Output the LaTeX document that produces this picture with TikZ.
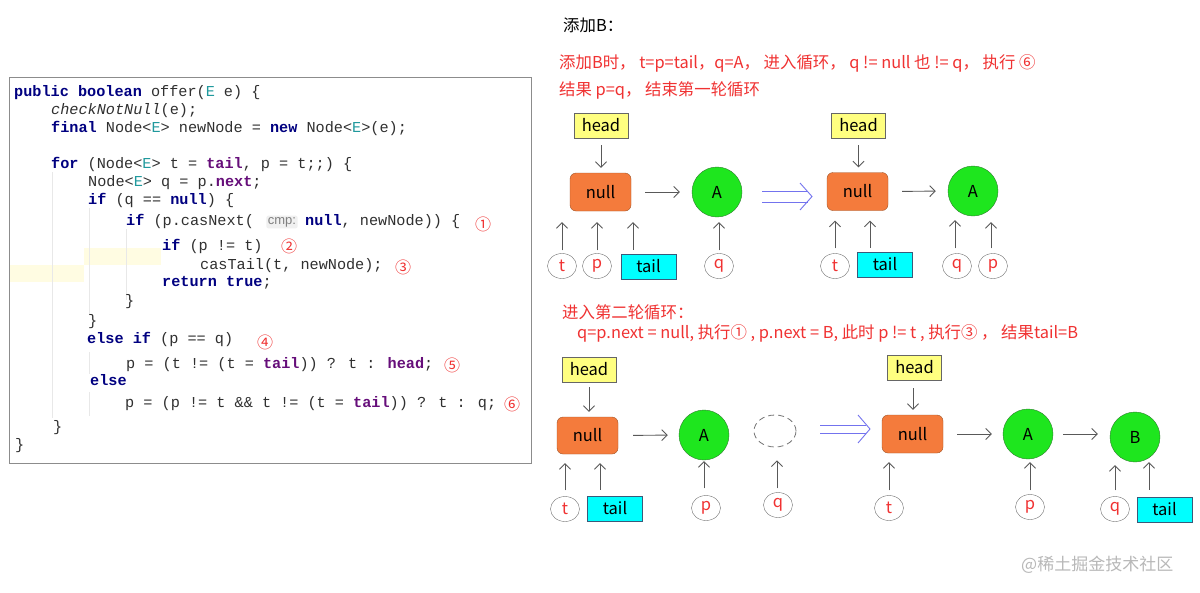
\documentclass[tikz,border=0pt]{standalone}
\usepackage{fontspec}
\setmainfont{Liberation Sans}
\newfontfamily\codefont{Liberation Mono}
\newfontfamily\cjk{Noto Sans CJK SC}
\usetikzlibrary{arrows.meta,shapes.geometric}
\definecolor{kwc}{HTML}{000080}
\definecolor{fdc}{HTML}{660E7A}
\definecolor{tpc}{HTML}{20999D}
\definecolor{codec}{HTML}{303030}
\definecolor{redc}{HTML}{F03232}
\definecolor{hyellow}{HTML}{FFFF80}
\definecolor{nullfill}{HTML}{F47B3C}
\definecolor{nullborder}{HTML}{A0562A}
\definecolor{gfill}{HTML}{1EE61E}
\definecolor{gborder}{HTML}{2E7D2E}
\definecolor{tailfill}{HTML}{00FFFF}
\definecolor{tailborder}{HTML}{3A5A7A}
\definecolor{dblc}{HTML}{7373EE}
\definecolor{guide}{HTML}{E8E8E8}
\definecolor{hl}{HTML}{FFFCE2}
\newcommand\kw[1]{\textcolor{kwc}{\bfseries #1}}
\newcommand\fd[1]{\textcolor{fdc}{\bfseries #1}}
\newcommand\tp{\textcolor{tpc}{E}}
\newcommand\lab{\cjk\fontsize{16.5}{19}\selectfont}
\tikzset{
  codeline/.style={anchor=west,inner sep=0pt,text height=11pt,text depth=3.5pt,text=codec,font=\codefont\fontsize{15.2}{18}\selectfont},
  cnum/.style={inner sep=0pt,text=redc,font=\cjk\fontsize{16}{18}\selectfont},
  headbox/.style={draw=gray!80!black,fill=hyellow,minimum width=54pt,minimum height=25pt,inner sep=0pt,font=\lab},
  nullbox/.style={draw=nullborder,fill=nullfill,rounded corners=6pt,minimum width=61pt,minimum height=38pt,inner sep=0pt,font=\lab},
  gcirc/.style={circle,draw=gborder,fill=gfill,minimum size=50pt,inner sep=0pt,font=\lab},
  tailbox/.style={draw=tailborder,fill=tailfill,minimum width=55pt,minimum height=25pt,inner sep=0pt,font=\lab},
  varell/.style={ellipse,draw=gray!90!black,fill=white,minimum width=29pt,minimum height=25pt,inner sep=0pt,text=redc,font=\lab},
  ptr/.style={draw=black!65,line width=0.9pt,-{Straight Barb[length=5.5pt,width=11pt]}},
  dbl/.style={draw=dblc,line width=0.9pt},
  rtext/.style={anchor=west,inner sep=0pt,text=redc,font=\cjk\fontsize{16.4}{19}\selectfont},
}
\begin{document}
\begin{tikzpicture}[x=1pt,y=-1pt]
\useasboundingbox[fill=white] (0,0) rectangle (1200,592);

% ---------- code panel ----------
\fill[hl] (84,248) rectangle (161,265);
\fill[hl] (10,265) rectangle (84,282);
\draw[guide,line width=0.8pt] (52,172) -- (52,418);
\draw[guide,line width=0.8pt] (89,208) -- (89,314);
\draw[guide,line width=0.8pt] (89,352) -- (89,374);
\draw[guide,line width=0.8pt] (89,392) -- (89,416);
\draw[guide,line width=0.8pt] (126,229) -- (126,300);
\node[draw=black!45,line width=1.4pt,minimum width=522pt,minimum height=386pt,anchor=north west,inner sep=0pt] (codebox) at (9,77) {};

\node[codeline] (c1) at (14,93) {\kw{public boolean} offer(\tp{} e) \{};
\node[codeline] (c2) at (51,111) {\textit{checkNotNull}(e);};
\node[codeline] (c3) at (51,129) {\kw{final} Node<\tp> newNode = \kw{new} Node<\tp>(e);};
\node[codeline] (c4) at (51,165) {\kw{for} (Node<\tp> t = \fd{tail}, p = t;;) \{};
\node[codeline] (c5) at (88,183) {Node<\tp> q = p.\fd{next};};
\node[codeline] (c6) at (88,201) {\kw{if} (q == \kw{null}) \{};
\node[codeline] (c7) at (126,222) {\kw{if} (p.casNext(};
\node[inner sep=1.5pt,fill=black!6,rounded corners=2pt,text=black!50,font=\fontsize{13}{15}\selectfont] (hint) at (282,222) {cmp:};
\node[codeline] (c7b) at (305,222) {\kw{null}, newNode)) \{};
\node[codeline] (c8) at (162,247) {\kw{if} (p != t)};
\node[codeline] (c9) at (200,266) {casTail(t, newNode);};
\node[codeline] (c10) at (162,283) {\kw{return true};};
\node[codeline] (c11) at (125,302) {\}};
\node[codeline] (c12) at (88,322) {\}};
\node[codeline] (c13) at (87,340) {\kw{else if} (p == q)};
\node[codeline] (c14) at (126,365) {p = (t != (t = \fd{tail})) ? t : \fd{head};};
\node[codeline] (c15) at (90,382) {\kw{else}};
\node[codeline] (c16) at (125,404) {p = (p != t \&\& t != (t = \fd{tail})) ? t : q;};
\node[codeline] (c17) at (53,428) {\}};
\node[codeline] (c18) at (15,446) {\}};

\node[cnum] (n1) at (483,224) {①};
\node[cnum] (n2) at (289,246) {②};
\node[cnum] (n3) at (403,267) {③};
\node[cnum] (n4) at (265,342) {④};
\node[cnum] (n5) at (452,365) {⑤};
\node[cnum] (n6) at (512,404) {⑥};

% ---------- texts ----------
\node[anchor=west,inner sep=0pt,font=\cjk\fontsize{16.4}{19}\selectfont] (ttl) at (563,25) {添加B：};
\node[rtext] (r1) at (559,63) {添加B时， t=p=tail，q=A， 进入循环， q != null 也 != q， 执行 ⑥};
\node[rtext] (r2) at (559,90) {结果 p=q， 结束第一轮循环};
\node[rtext] (r3) at (562,312) {进入第二轮循环：};
\node[rtext] (r4) at (577,333) {q=p.next = null,  执行① , p.next = B, 此时 p != t , 执行③ ， 结果tail=B};

% ---------- diagram 1 ----------
\node[headbox] (head1) at (601,125.5) {head};
\node[nullbox] (null1) at (600.5,192) {null};
\node[gcirc] (A1) at (717,192) {A};
\node[varell] (t1) at (562,266) {t};
\node[varell] (p1) at (597,266) {p};
\node[tailbox] (tail1) at (648.5,266.5) {tail};
\node[varell] (q1) at (719,266) {q};
\coordinate (tl1) at ([xshift=-15.5pt]tail1.north);
\draw[ptr,shorten <=7pt,shorten >=5pt] (head1.south) -- (head1.south |- null1.north);
\draw[ptr,shorten <=14pt,shorten >=12pt] (null1.east) -- (A1.west);
\draw[ptr,shorten <=3pt,shorten >=11pt] (t1.north) -- (t1.north |- null1.south);
\draw[ptr,shorten <=3pt,shorten >=11pt] (p1.north) -- (p1.north |- null1.south);
\draw[ptr,shorten <=4pt,shorten >=11pt] (tl1) -- (tl1 |- null1.south);
\draw[ptr,shorten <=3pt,shorten >=5pt] (q1.north) -- (q1.north |- A1.south);

% double arrow 1
\draw[dbl] (762,191) -- (808,191);
\draw[dbl] (762,202) -- (808,202);
\draw[dbl] (800,183) -- (812,196.5) -- (800,210);

% ---------- diagram 2 ----------
\node[headbox] (head2) at (858.5,125.5) {head};
\node[nullbox] (null2) at (857.5,191.5) {null};
\node[gcirc] (A2) at (973,191) {A};
\node[varell] (t2) at (835,266) {t};
\node[tailbox] (tail2) at (885,264.5) {tail};
\node[varell] (q2) at (957,266) {q};
\node[varell] (p2) at (993,266) {p};
\coordinate (tl2) at ([xshift=-15pt]tail2.north);
\draw[ptr,shorten <=7pt,shorten >=5pt] (head2.south) -- (head2.south |- null2.north);
\draw[ptr,shorten <=14pt,shorten >=12pt] (null2.east) -- (A2.west);
\draw[ptr,shorten <=5pt,shorten >=10pt] (t2.north) -- (t2.north |- null2.south);
\draw[ptr,shorten <=4pt,shorten >=10pt] (tl2) -- (tl2 |- null2.south);
\draw[ptr,shorten <=5pt,shorten >=4pt] ([xshift=-2pt]q2.north) -- ([xshift=-2pt]q2.north |- A2.south);
\draw[ptr,shorten <=5pt,shorten >=6pt] ([xshift=-2pt]p2.north) -- ([xshift=-2pt]p2.north |- A2.south);

% ---------- diagram 3 ----------
\node[headbox] (head3) at (589,369.5) {head};
\node[nullbox,minimum height=37pt] (null3) at (587.5,435.5) {null};
\node[gcirc] (A3) at (704,435) {A};
\node[ellipse,draw=black!55,dashed,dash pattern=on 6pt off 4pt,line width=0.8pt,minimum width=42pt,minimum height=32pt,inner sep=0pt] (D3) at (775,431) {};
\node[varell] (t3) at (565,509) {t};
\node[tailbox] (tail3) at (615,508.5) {tail};
\node[varell] (p3) at (706,508) {p};
\node[varell] (q3) at (778,505) {q};
\coordinate (tl3) at ([xshift=-15pt]tail3.north);
\draw[ptr,shorten <=5pt,shorten >=5pt] (head3.south) -- (head3.south |- null3.north);
\draw[ptr,shorten <=15pt,shorten >=11pt] (null3.east) -- (A3.west);
\draw[ptr,shorten <=6pt,shorten >=9pt] (t3.north) -- (t3.north |- null3.south);
\draw[ptr,shorten <=6pt,shorten >=9pt] (tl3) -- (tl3 |- null3.south);
\draw[ptr,shorten <=7pt,shorten >=1pt] ([xshift=-2pt]p3.north) -- ([xshift=-2pt]p3.north |- A3.south);
\draw[ptr,shorten <=4pt,shorten >=13pt] ([xshift=-1pt]q3.north) -- ([xshift=-1pt]q3.north |- D3.south);

% double arrow 2
\draw[dbl] (820,425) -- (866,425);
\draw[dbl] (820,433) -- (866,433);
\draw[dbl] (858,415) -- (870,429) -- (858,443);

% ---------- diagram 4 ----------
\node[headbox] (head4) at (914.5,367.5) {head};
\node[nullbox] (null4) at (912.5,434) {null};
\node[gcirc] (A4) at (1028,434) {A};
\node[gcirc] (B4) at (1135,437) {B};
\node[varell] (t4) at (889,508) {t};
\node[varell] (p4) at (1030,507) {p};
\node[varell] (q4) at (1115,509) {q};
\node[tailbox] (tail4) at (1164.5,509.5) {tail};
\coordinate (tl4) at ([xshift=-15.5pt]tail4.north);
\draw[ptr,shorten <=8pt,shorten >=5pt] ([xshift=-1.5pt]head4.south) -- ([xshift=-1.5pt]head4.south |- null4.north);
\draw[ptr,shorten <=14pt,shorten >=11pt] (null4.east) -- (A4.west);
\draw[ptr,shorten <=10pt,shorten >=12pt] (A4.east) -- (A4.east -| B4.west);
\draw[ptr,shorten <=5pt,shorten >=9pt] (t4.north) -- (t4.north |- null4.south);
\draw[ptr,shorten <=4pt,shorten >=3pt] (p4.north) -- (p4.north |- A4.south);
\draw[ptr,shorten <=6pt,shorten >=3pt] (q4.north) -- (q4.north |- B4.south);
\draw[ptr,shorten <=7pt,shorten >=0pt] (tl4) -- (tl4 |- B4.south);

% watermark
\node[anchor=west,inner sep=0pt,text=black!28,font=\cjk\fontsize{17}{20}\selectfont] (wm) at (1021,565) {@稀土掘金技术社区};
\end{tikzpicture}
\end{document}
